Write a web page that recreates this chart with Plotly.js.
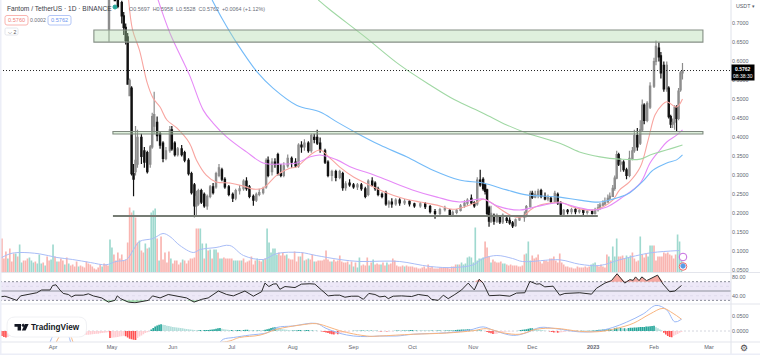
<!DOCTYPE html>
<html><head><meta charset="utf-8">
<script src="https://cdn.plot.ly/plotly-3.0.1.min.js"></script>
<style>html,body{margin:0;padding:0;background:#fff}</style></head>
<body><div id="chart" style="width:760px;height:355px"></div>
<script>
// Days are counted from 5 Mar 2022.
const monthDays=[27,57,88,118,149,180,210,241,271,302,333,361];
const monthLabels=['Apr','May','Jun','Jul','Aug','Sep','Oct','Nov','Dec','<b>2023</b>','Feb','Mar'];
const priceTicks=[0.05,0.1,0.15,0.2,0.25,0.3,0.35,0.4,0.45,0.5,0.55,0.6,0.65,0.7];

const candleDay=[55.5,58.5,60,62,63,64,65,66,67,68,69,70,72,73.5,75,76.5,77.5,78.5,80,81.5,83,84.5,86.5,87.5,89,90.5,92.5,94,96,97.5,99,100,101,102.5,104,105.5,107,108.5,110,111.5,113,114.5,116.5,118.5,120,122,124,125.5,127,129,130.5,132,134,135.5,136.5,138.5,140,141.5,143,144.5,146.5,148.5,150.5,152,153.5,155,157,158.5,160,161.5,163,165.5,167,169,171,173,174.5,176,178,180,182,184,186,187.5,189.5,191,192.5,194.5,196.5,198,199.5,201.5,203.5,206,208.5,211,214,216.5,219,221.5,224,226.5,229,230.5,232.5,234.5,236.5,238,240,241.5,243,244.5,246,247,248,249,250,251.5,253,254.5,256,258,259.5,261,262.5,264.5,267,268,270,271,272.5,274,275.5,277.5,279,280.5,282.5,284,285.5,287,289,291,293,295,297,299,301.5,303,304.5,305.5,307,308,309.5,310.5,312,313,314,315,316,317.5,319,320.5,322,323,324.5,326,327,328,329.5,331,333,334,335.5,336.5,338,339.5,340.5,341.5,342.5,343.5,344.5,345.5,346.5,347.5];
const candleOpen=[.685,.80,.78,.755,.72,.69,.665,.51,.53,.305,.31,.33,.40,.365,.36,.33,.375,.43,.44,.41,.385,.345,.365,.42,.385,.355,.37,.36,.34,.305,.275,.22,.225,.26,.25,.22,.245,.27,.27,.30,.315,.29,.27,.25,.24,.26,.265,.285,.27,.245,.235,.25,.255,.27,.34,.31,.335,.355,.305,.30,.325,.345,.335,.325,.38,.375,.385,.365,.40,.40,.385,.365,.335,.30,.31,.295,.305,.268,.28,.275,.27,.275,.265,.25,.285,.28,.265,.25,.255,.225,.23,.225,.235,.228,.232,.225,.22,.225,.218,.205,.20,.21,.208,.197,.203,.208,.22,.227,.24,.228,.225,.288,.29,.275,.262,.215,.18,.195,.18,.19,.178,.187,.182,.175,.168,.183,.19,.195,.218,.253,.243,.25,.26,.245,.238,.24,.232,.25,.228,.198,.208,.205,.21,.205,.208,.203,.205,.2,.21,.215,.222,.225,.23,.24,.245,.266,.293,.355,.33,.335,.315,.30,.345,.365,.405,.385,.42,.485,.445,.48,.535,.60,.635,.615,.59,.528,.53,.455,.435,.44,.48,.45,.525,.5697];
const candleHigh=[.82,.82,.80,.76,.73,.70,.675,.555,.535,.33,.43,.42,.41,.375,.365,.38,.465,.52,.455,.415,.39,.375,.43,.43,.39,.375,.38,.365,.345,.31,.28,.26,.265,.265,.255,.25,.275,.28,.31,.33,.32,.295,.275,.255,.265,.275,.29,.295,.275,.25,.255,.265,.27,.345,.35,.345,.345,.36,.33,.335,.355,.35,.345,.385,.39,.395,.39,.41,.41,.42,.40,.37,.34,.315,.315,.315,.31,.285,.29,.28,.28,.28,.27,.29,.295,.285,.27,.255,.26,.235,.24,.24,.24,.238,.235,.228,.23,.23,.222,.212,.215,.22,.212,.208,.212,.225,.235,.24,.25,.232,.295,.315,.295,.28,.265,.22,.22,.20,.20,.195,.20,.195,.19,.18,.187,.195,.205,.222,.26,.26,.26,.265,.265,.255,.25,.245,.26,.255,.232,.212,.212,.215,.215,.213,.212,.21,.21,.215,.225,.228,.235,.242,.25,.255,.275,.30,.365,.36,.345,.34,.32,.365,.375,.42,.425,.445,.50,.49,.495,.545,.61,.655,.65,.625,.60,.60,.535,.46,.45,.485,.485,.53,.575,.5958];
const candleLow=[.652,.76,.74,.70,.67,.645,.54,.515,.30,.245,.30,.32,.33,.32,.305,.32,.37,.41,.39,.37,.335,.34,.36,.365,.35,.35,.35,.335,.30,.25,.19,.195,.22,.225,.215,.21,.24,.25,.265,.295,.285,.265,.245,.23,.235,.25,.26,.26,.24,.22,.23,.245,.25,.265,.295,.30,.32,.30,.295,.295,.32,.32,.32,.32,.36,.365,.36,.36,.385,.38,.36,.33,.295,.285,.285,.29,.26,.26,.27,.265,.262,.26,.24,.245,.27,.26,.245,.24,.22,.215,.215,.22,.22,.222,.218,.215,.215,.212,.20,.186,.195,.205,.193,.193,.198,.205,.215,.22,.225,.215,.22,.27,.26,.25,.195,.165,.175,.17,.175,.172,.172,.175,.17,.162,.165,.18,.178,.19,.215,.238,.24,.24,.24,.235,.232,.228,.228,.222,.193,.193,.198,.198,.198,.2,.196,.197,.197,.197,.205,.21,.218,.222,.228,.235,.243,.26,.29,.325,.31,.31,.29,.295,.34,.36,.365,.38,.415,.435,.44,.475,.53,.59,.60,.555,.52,.52,.45,.425,.425,.42,.415,.445,.52,.5528];
const candleClose=[.80,.76,.745,.72,.69,.655,.54,.55,.305,.29,.34,.40,.35,.335,.31,.375,.455,.46,.405,.38,.345,.365,.42,.37,.355,.37,.355,.34,.305,.255,.22,.245,.26,.23,.22,.245,.27,.255,.305,.32,.29,.27,.25,.24,.26,.265,.285,.265,.245,.235,.25,.255,.265,.34,.30,.335,.33,.305,.30,.325,.345,.335,.325,.38,.375,.385,.365,.405,.395,.385,.368,.335,.30,.31,.295,.31,.268,.278,.275,.27,.275,.265,.245,.285,.275,.265,.25,.245,.225,.23,.225,.235,.228,.232,.225,.22,.225,.218,.205,.20,.21,.213,.197,.203,.208,.22,.227,.235,.228,.22,.288,.275,.265,.258,.20,.18,.20,.18,.195,.178,.195,.182,.175,.167,.183,.19,.195,.218,.253,.243,.25,.258,.245,.238,.243,.232,.253,.228,.198,.208,.205,.21,.205,.208,.203,.205,.2,.21,.215,.222,.225,.23,.24,.245,.266,.293,.355,.33,.335,.315,.30,.345,.365,.405,.375,.42,.485,.445,.49,.535,.60,.64,.612,.57,.528,.59,.455,.435,.44,.48,.45,.522,.57,.5762];

const maFastDay=[65.5,67.5,71,75,78,81.5,85,90,96.5,100,105,110,117,124,129,134,141,147.5,151,158,163,168,173,180,188,197,205,214,222.5,230.5,237.5,243,246,249.5,255.5,261,266,270,275,281.5,285,293.5,302,307,312,315.5,320.5,326,330,333.5,337,339.5,344.5,347.5];
const maFast=[.762,.683,.63,.543,.503,.48,.446,.425,.385,.341,.301,.283,.28,.272,.264,.267,.301,.319,.322,.354,.367,.346,.322,.296,.275,.254,.24,.23,.222,.211,.219,.23,.238,.23,.209,.193,.191,.209,.222,.228,.23,.214,.209,.217,.235,.262,.283,.322,.393,.459,.485,.494,.48,.501];
const maMidDay=[80.5,86.5,96.5,103.5,108.5,115.5,125.5,134,144,151,158,163,171.5,179.5,188,197,210,222.5,234,246,253,264.5,270,276.5,285,293.5,302,309,317,326,331,336,339.5,344.5,347.5];
const maMid=[.762,.675,.564,.472,.438,.401,.362,.333,.33,.333,.349,.354,.341,.32,.306,.288,.262,.243,.23,.238,.22,.209,.214,.222,.228,.217,.209,.217,.243,.28,.333,.367,.388,.406,.42];
const maSlowDay=[108,113.5,120.5,131,139,151,163,171.5,181.5,193.5,207,220.5,234,246,258,268,285,295,305.5,315.5,320.5,327,332.5,339.5,344.5,347.5];
const maSlow=[.762,.709,.649,.572,.53,.485,.467,.441,.412,.38,.349,.314,.288,.28,.262,.249,.243,.235,.23,.243,.254,.283,.314,.333,.341,.354];
const maLongDay=[162,168,186,203.5,219,231.5,246,258,268,285,295,305.5,315.5,326,331,336,342.5,347.5];
const maLong=[.762,.736,.664,.591,.538,.499,.464,.433,.412,.385,.362,.349,.343,.343,.354,.362,.372,.38];

// Signed volume: positive = up day, negative = down day.
const volume=[16,-34,-14,-21,14,-24,-11,-19,19,-16,28,10,-12,-12,-14,15,12,10,-11,9,18,9,-10,7,-16,-12,13,28,-16,11,-11,-14,-12,8,-15,9,-7,-8,-6,-11,6,-7,-6,-5,-11,-9,-8,-6,-4,-3,-5,-8,6,-9,-8,-7,33,25,-18,-12,-20,-14,-18,-12,-13,-30,-65,-60,62,-55,-30,32,-22,-20,29,-24,25,60,62,64,-34,12,-36,-13,-20,-10,-21,14,-9,-12,-12,-8,-10,13,-12,-9,-12,-14,-14,-15,-44,-44,44,29,-14,29,-22,23,-14,23,23,-20,14,14,-15,-14,-14,-14,-14,12,12,12,-12,12,-14,-10,-11,-12,-16,-8,-12,14,-12,-11,13,-14,44,30,20,24,24,18,-20,-17,-20,-17,18,-14,-13,-13,-21,-11,-16,16,-20,12,-13,14,-13,-18,11,-11,-12,-12,-12,-13,-22,-13,-11,11,-13,-11,-12,-17,-11,-10,-10,-11,8,-11,6,-10,5,15,-7,-8,-7,-15,7,-10,13,-8,-9,-8,8,-10,-7,10,-8,-9,-14,-12,-7,-6,-6,-7,6,-7,-6,-6,-6,-5,-5,-4,-4,-5,-6,-4,-8,-5,-6,-4,-4,-4,-5,-5,-5,-5,-5,-4,-6,-6,-8,8,-8,10,8,9,15,16,15,10,45,12,14,14,15,-31,-25,-16,10,-13,-11,-10,-10,-11,9,9,-8,-7,-8,-7,-7,-7,-6,-6,-7,-18,19,31,12,-17,-14,-15,-18,-11,-9,-12,-12,-11,-14,-14,-16,-12,-10,-19,-10,-8,-6,-6,-5,-5,-4,-4,-6,-5,-5,-5,-6,-5,-6,8,9,10,-7,-6,-8,-6,-5,-18,16,-12,26,16,34,-16,-16,-17,-14,17,15,17,-20,-14,-11,-12,36,-18,-15,-19,16,27,27,-27,-12,-16,-16,-16,-20,-19,-20,-18,-17,-14,-18,38,31,14];
const volMaDay=[0,5,10,20,29,37,46,54,59,64.5,68,71,78,83,86.5,91.6,98.4,102,110,117,124,134,141,153,161,173,183,193,203.5,219,231,241,246,253,261,266,285,295,305.4,315.5,326,332.5,346];
const volMa=[14,18.7,20,18.7,15,13,10,7.7,11,13,23,31,34,39,36,27,20,23,25,27,17,13,19,20,17,13,11,11.3,11,6,5,7.7,14,17,14,11,12.7,8.3,7,12.7,17.7,20,22];

const rsiDay=[0,2.5,5.1,8.5,10.5,15.3,18.7,21.2,25.5,26.8,28.5,30.5,32.2,34.8,36.5,38.2,42.4,45,47.5,51.8,55.2,58.5,59.7,61.4,65.3,68.7,72.1,75.5,77.7,81.5,85.7,89.9,95,98.8,102.7,106,108.6,111.2,115.4,118.8,122.2,124.7,129,133.2,134.9,136.9,139.1,140.8,142.5,145.1,150.2,153.5,157.8,160.3,163.7,167.1,170.5,173,175.6,179,182.4,185,187.8,190.9,193.4,196,197.7,200.2,204.5,209.6,213,218,219.7,223.1,225.7,228.2,231.6,235,238.4,241.5,244,246,249.1,254.5,259.6,263,267.2,269.8,273.2,274.9,277.4,281.6,285,287.6,295.2,301.2,303.7,308,311.3,314.2,318.1,320.7,322.4,323.6,325.4,326.8,329.2,332.6,334.8,337.6,341,343.6,347];
const rsi=[37.4,38.9,35.2,30,39.6,43.3,46.3,52.2,52.2,61.8,63.3,52.2,44.8,42.6,37.4,41.1,41.1,44,39.6,35.2,26.3,30,39.6,33.7,26.3,24.8,27.8,30,39.6,35.2,42.6,39.6,35.2,26.3,32.2,35.2,42.6,50,42.6,39.6,45.6,50,38.9,48.5,67,59.6,64.8,65.5,53.7,59.6,57.4,64.8,65.5,64.8,52.2,39.6,41.1,41.1,36.7,38.9,38.9,32.2,44.8,42.6,37.4,38.9,33.7,38.9,39.6,38.2,42.6,39.6,32.2,30,41.1,33.7,42.6,52.2,67,52.2,75.2,67,40,41.1,38.9,45.6,46.3,70.7,64.8,65.5,58.9,60.4,41.1,44.8,46.3,43.3,55.9,67,72.2,87,67,74.4,72.9,80.3,72.2,80.3,72.2,80.3,84,64.8,48.5,50,61.8];

const macdDay=[25,26.3,29,32,35,37.3,110,113.7,119,127,136,141,149,161,166,173,180,187,193.4,202,210.4,227.3,239,246,251,261.3,268,275,283,295,303.7,312,319,327.5,334,339.4,343.6,347];
const macd=[-.048,-.025,.003,.003,-.019,-.048,-.048,-.028,-.022,-.014,-.006,.012,.017,.026,.009,-.008,-.017,-.019,-.017,-.017,-.011,-.006,.003,.014,.003,-.015,-.006,.012,.008,-.003,-.001,.012,.03,.058,.087,.072,.031,.04];
const signalDay=[28,30.2,33,36,38.7,115.4,122,132.4,141,152.7,161,168,173,180,188.4,193.4,210.4,227.3,241,247.7,256,264.7,273,283,295,305.4,314,322.4,331,337.6,342.7,347];
const signal=[-.048,-.019,-.002,-.019,-.048,-.036,-.022,-.014,.006,.02,.025,.012,.001,-.01,-.018,-.017,-.011,-.007,.001,.008,-.006,-.011,.006,.009,-.001,-.002,.009,.026,.058,.077,.06,.04];
// MACD histogram in thousandths.
const macdHist=[-12,-17,-20,-22,-20,-17,-14,-12,-9,-7,-5,-4,-3,-2,-2,-1,-1,-1,0,0,1,1,1,1,1,1,1,1,1,1,1,1,1,1,0,0,-1,-1,-2,-3,-17,-16,-15,-14,-13,-13,-12,-11,-10,-9,-9,-8,-7,-6,-5,-4,-24,-23,-22,-21,-20,-19,-18,-16,-18,-22,-26,-28,-30,-31,-24,-19,-15,-11,-7,-4,-1,5,10,15,19,21,23,21,20,18,17,15,14,13,12,11,10,9,8,7,6,5,4,3,2,2,3,2,3,3,3,4,5,6,8,9,10,8,6,5,4,3,3,2,2,3,3,2,3,4,4,3,2,2,1,2,2,1,2,4,6,8,10,12,13,11,9,8,6,5,4,3,2,2,2,2,3,3,2,2,3,3,2,2,1,1,0,0,-2,-3,-5,-7,-9,-11,-12,-10,-11,-8,-6,-5,-3,-2,-1,0,1,1,1,1,2,2,1,2,1,2,1,1,1,-1,-2,-2,-1,-2,-1,-1,-1,1,2,2,1,2,2,2,2,3,3,2,2,1,1,1,1,1,1,1,2,1,1,2,2,1,1,2,2,2,2,2,3,4,4,5,5,5,6,6,4,3,2,2,2,2,1,0,-3,-6,-8,-10,-10,-9,-7,-5,-3,-2,-2,-1,-1,-1,0,0,1,3,4,5,6,8,9,9,8,7,5,4,3,2,1,0,-2,-3,-5,-5,-6,-5,-4,-3,-2,-1,-1,-1,0,0,1,0,1,1,0,1,1,1,2,2,3,4,4,5,5,6,6,6,5,10,11,10,10,9,9,8,10,11,11,12,12,13,14,14,14,15,15,16,17,18,13,9,5,2,-6,-12,-17,-20,-21,-16,-13,-10,-6,-3];

const lastPrice=0.5762;
const W=731,H=342;
const px=x=>x/W, py=y=>1-y/H;
const FONT='"Liberation Sans",Arial,sans-serif';
const indexOf=a=>a.map((_,i)=>i);
const prevRel=(a,i)=>i>0?a[i]-a[i-1]:0;
const histColor=macdHist.map((v,i)=>{const r=prevRel(macdHist,i);
  if(v>=0) return r>=0?'#26a69a':'#b2dfdb';
  return r<0?'#ff5252':'#ffcdd2';});

const data=[
 {type:'bar',x:indexOf(volume),y:volume.map(Math.abs),yaxis:'y',width:.85,marker:{color:volume.map(v=>v>=0?'#9fd9cf':'#f9b5b1'),line:{width:0}}},
 {type:'scatter',mode:'lines',x:volMaDay,y:volMa,yaxis:'y',line:{color:'#a9bdf7',width:1,shape:'spline'}},
 {type:'candlestick',x:candleDay,open:candleOpen,high:candleHigh,low:candleLow,close:candleClose,yaxis:'y2',whiskerwidth:0,
  increasing:{line:{color:'#8c8c8c',width:1.2},fillcolor:'#b5b5b5'},decreasing:{line:{color:'#111',width:1.2},fillcolor:'#111'}},
 {type:'scatter',mode:'lines',x:maFastDay,y:maFast,yaxis:'y2',line:{color:'#f8a5a0',width:1.1,shape:'spline'}},
 {type:'scatter',mode:'lines',x:maMidDay,y:maMid,yaxis:'y2',line:{color:'#e68af7',width:1.1,shape:'spline'}},
 {type:'scatter',mode:'lines',x:maSlowDay,y:maSlow,yaxis:'y2',line:{color:'#74bbf8',width:1.1,shape:'spline'}},
 {type:'scatter',mode:'lines',x:maLongDay,y:maLong,yaxis:'y2',line:{color:'#a0d8a4',width:1.1,shape:'spline'}},
 {type:'scatter',mode:'lines',x:rsiDay,y:rsi.map(()=>70),yaxis:'y3',line:{width:0}},
 {type:'scatter',mode:'lines',x:rsiDay,y:rsi.map(v=>Math.max(v,70)),yaxis:'y3',fill:'tonexty',fillcolor:'#f6a9a2',line:{width:0}},
 {type:'scatter',mode:'lines',x:rsiDay,y:rsi.map(()=>30),yaxis:'y3',line:{width:0}},
 {type:'scatter',mode:'lines',x:rsiDay,y:rsi.map(v=>Math.min(v,30)),yaxis:'y3',fill:'tonexty',fillcolor:'#a3dcae',line:{width:0}},
 {type:'scatter',mode:'lines',x:rsiDay,y:rsi,yaxis:'y3',line:{color:'#2a2a2a',width:1}},
 {type:'bar',x:indexOf(macdHist),y:macdHist.map(v=>v/1000),yaxis:'y4',width:.85,marker:{color:histColor,line:{width:0}}},
 {type:'scatter',mode:'lines',x:macdDay,y:macd,yaxis:'y4',line:{color:'#9ab8f6',width:1,shape:'spline'}},
 {type:'scatter',mode:'lines',x:signalDay,y:signal,yaxis:'y4',line:{color:'#f8b47e',width:1,shape:'spline'}}
];

function rr(x0,y0,x1,y1,r){const X=v=>px(v),Y=v=>py(v);
 return `M${X(x0+r)},${Y(y0)}L${X(x1-r)},${Y(y0)}Q${X(x1)},${Y(y0)} ${X(x1)},${Y(y0+r)}L${X(x1)},${Y(y1-r)}Q${X(x1)},${Y(y1)} ${X(x1-r)},${Y(y1)}L${X(x0+r)},${Y(y1)}Q${X(x0)},${Y(y1)} ${X(x0)},${Y(y1-r)}L${X(x0)},${Y(y0+r)}Q${X(x0)},${Y(y0)} ${X(x0+r)},${Y(y0)}Z`;}
const box=(x0,y0,x1,y1,r,line,fill,w)=>({type:'path',xref:'paper',yref:'paper',layer:'above',path:rr(x0,y0,x1,y1,r),line:{color:line,width:w===undefined?1:w},fillcolor:fill});
const disc=(cx,cy,r,line,fill)=>({type:'circle',xref:'paper',yref:'paper',layer:'above',x0:px(cx-r),x1:px(cx+r),y0:py(cy-r),y1:py(cy+r),line:{color:line,width:1},fillcolor:fill});
const hl=(yref,y,color,width,dash)=>({type:'line',xref:'paper',x0:0,x1:1,yref,y0:y,y1:y,layer:'below',line:{color,width,dash}});
const sep=y=>({type:'line',xref:'paper',yref:'paper',x0:0,x1:760/W,y0:py(y),y1:py(y),line:{color:'#e3e5ec',width:1},layer:'above'});

const shapes=[
 {type:'rect',xref:'paper',yref:'y3',x0:0,x1:1,y0:30,y1:70,layer:'below',fillcolor:'#ede8f7',line:{width:0}},
 hl('y3',70,'#6f7280',.8,'2px,2px'),hl('y3',30,'#6f7280',.8,'2px,2px'),hl('y3',50,'#8d8f9c',1.2,'solid'),
 hl('y3',60,'#dcd8ea',.8,'dot'),hl('y3',40,'#dcd8ea',.8,'dot'),
 hl('y4',0,'#c9ccd6',.8,'2px,2px'),
 {type:'rect',xref:'x',yref:'y2',x0:47.8,x1:357.9,y0:.651,y1:.683,layer:'above',fillcolor:'rgba(170,215,165,.38)',line:{color:'#858f85',width:1.1}},
 {type:'rect',xref:'x',yref:'y2',x0:57.5,x1:357.9,y0:.409,y1:.4157,layer:'above',fillcolor:'rgba(170,215,165,.38)',line:{color:'#7f8a7f',width:1.1}},
 {type:'line',xref:'x',yref:'y2',x0:57.5,x1:304.4,y0:.193,y1:.193,layer:'above',line:{color:'#767c74',width:2}},
 {type:'line',xref:'paper',yref:'y2',x0:0,x1:1,y0:lastPrice,y1:lastPrice,layer:'above',line:{color:'#222',width:1,dash:'1px,2px'}},
 {type:'line',xref:'paper',yref:'paper',x0:1,x1:1,y0:py(355),y1:1,line:{color:'#dfe2ea',width:1},layer:'above'},
 sep(272.5),sep(304),sep(342),
 {type:'rect',xref:'paper',yref:'paper',x0:0,x1:px(1.5),y0:py(355),y1:1,line:{width:0},fillcolor:'#eceef7',layer:'above'},
 {type:'rect',xref:'paper',yref:'paper',x0:0,x1:760/W,y0:py(355),y1:py(353.5),line:{width:0},fillcolor:'#eceef7',layer:'above'},
 disc(115,7,2,'#26a69a','#26a69a'),
 box(5,15.5,28,25,2,'#f9b4b0','#fff'),box(48,15.5,71,25,2,'#b3c6f7','#fff'),box(5,28,18,35,1.5,'#e4e6ec','#fff'),
 box(7,317,86.5,337,8,'#f0f1f4','#fff'),
 {type:'path',xref:'paper',yref:'paper',layer:'above',line:{width:0},fillcolor:'#131722',
  path:`M${px(14.5)},${py(324)}L${px(21)},${py(324)}L${px(21)},${py(330.5)}L${px(17.6)},${py(330.5)}L${px(17.6)},${py(326.8)}L${px(14.5)},${py(326.8)}Z`},
 disc(23.2,325.3,1.1,'#131722','#131722'),
 {type:'path',xref:'paper',yref:'paper',layer:'above',line:{width:0},fillcolor:'#131722',
  path:`M${px(25)},${py(324)}L${px(28.6)},${py(324)}L${px(25.6)},${py(330.5)}L${px(21.8)},${py(330.5)}Z`},
 disc(683,257,3.8,'#c56be0','#fff'),
 disc(683,266.5,3.8,'#ef6b6b','#fff'),disc(683,266,2.2,'#5b9be6','#5b9be6')
];

const txt=(x,y,text,size,color,extra)=>Object.assign({xref:'paper',yref:'paper',x:px(x),y:py(y),text,showarrow:false,xanchor:'left',yanchor:'middle',font:{family:FONT,size,color}},extra||{});
const annotations=[
 txt(5,8,'Fantom / TetherUS · 1D · BINANCE',6.6,'#3a3d47'),
 txt(127,8.5,'O0.5697  H0.5958  L0.5528  C0.5762  +0.0064 (+1.12%)',5.4,'#6a6d78'),
 txt(16.5,20.3,'0.5760',5.6,'#f0807a',{xanchor:'center'}),
 txt(38,20.3,'0.0002',5.2,'#6a6d78',{xanchor:'center'}),
 txt(59.5,20.3,'0.5762',5.6,'#6d95ee',{xanchor:'center'}),
 txt(11.5,31.7,'⌵ 2',5.2,'#555',{xanchor:'center'}),
 txt(29,327.2,'<b>TradingView</b>',8.2,'#131722'),
 txt(734,6,'USDT ▾',5.3,'#555a66'),
 txt(731,72,'<b>0.5762</b><br>08:38:30',5,'#ffffff',{bgcolor:'#000',borderpad:1,xanchor:'left',align:'center'}),
 txt(744,348,'⚙',9,'#444',{xanchor:'center'})
];

const axisBase={showgrid:false,zeroline:false,showline:false,ticks:'',fixedrange:true};
const tickFont={family:FONT,size:5.4,color:'#62656f'};
const layout={
 width:760,height:355,margin:{l:0,r:29,t:0,b:13,pad:0},paper_bgcolor:'#fff',plot_bgcolor:'#fff',
 showlegend:false,hovermode:false,barmode:'overlay',boxgap:.1,dragmode:false,
 xaxis:Object.assign({},axisBase,{range:[0,W/1.964],tickmode:'array',tickvals:monthDays,ticktext:monthLabels,anchor:'y4',tickfont:{family:FONT,size:5.6,color:'#62656f'},rangeslider:{visible:false},type:'linear'}),
 yaxis:Object.assign({},axisBase,{domain:[1-272.5/H,1],range:[0,272.5],visible:false}),
 yaxis2:Object.assign({},axisBase,{overlaying:'y',side:'right',anchor:'x',range:[.0446,.7618],tickmode:'array',tickvals:priceTicks,ticktext:priceTicks.map(v=>v.toFixed(4)),tickfont:tickFont}),
 yaxis3:Object.assign({},axisBase,{domain:[1-304/H,1-273/H],side:'right',anchor:'x',range:[22.2,88.6],tickmode:'array',tickvals:[40,80],ticktext:['40.00','80.00'],tickfont:tickFont}),
 yaxis4:Object.assign({},axisBase,{domain:[0,1-304.5/H],side:'right',anchor:'x',range:[-.0374,.0901],tickmode:'array',tickvals:[0,.05],ticktext:['0.0000','0.0500'],tickfont:tickFont}),
 shapes,annotations
};
Plotly.newPlot('chart',data,layout,{displayModeBar:false,staticPlot:true});
</script></body></html>
